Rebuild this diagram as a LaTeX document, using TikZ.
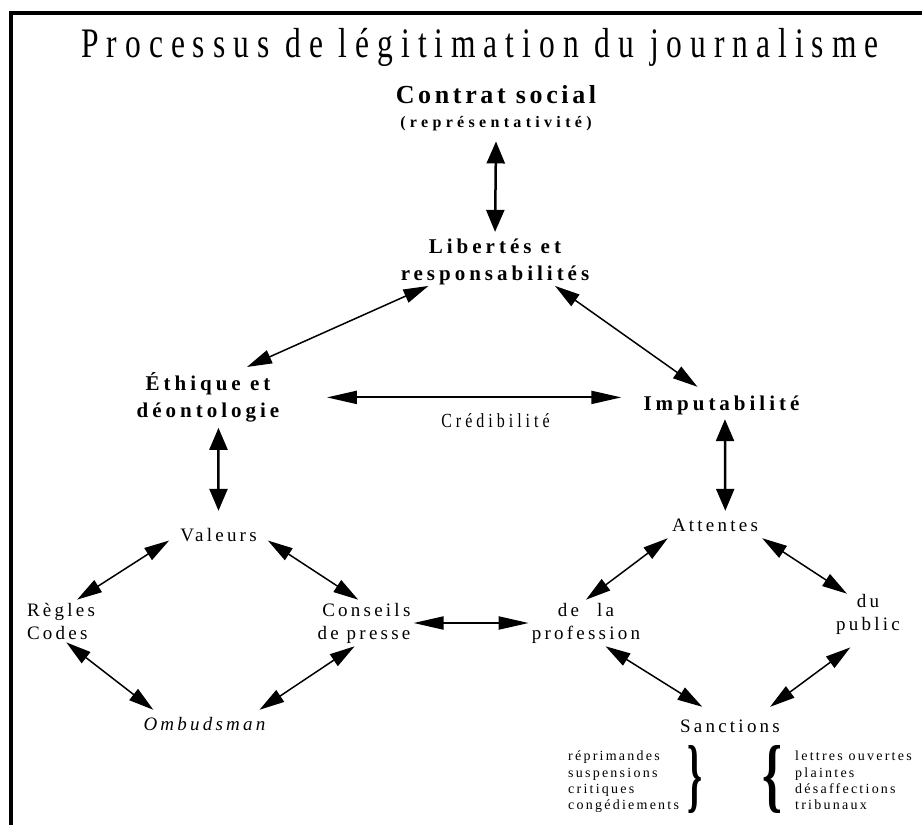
\documentclass[tikz,border=0pt]{standalone}
\usepackage{fontspec}
\usepackage{graphicx}
\usepackage{tikz}
\usetikzlibrary{arrows.meta,positioning}
\setmainfont{Liberation Serif}
\newfontfamily\titlefont[FakeStretch=0.75,LetterSpace=19]{Liberation Serif}
\newfontfamily\narrowfont[FakeStretch=0.8,LetterSpace=20]{Liberation Serif}
\newfontfamily\spacedfont[LetterSpace=17]{Liberation Serif}
\newfontfamily\boldspaced[LetterSpace=19]{Liberation Serif}
\tikzset{
  heading/.style={font=\titlefont\fontsize{42}{44}\selectfont,inner sep=0pt},
  concept/.style={font=\boldspaced\bfseries\fontsize{21}{27}\selectfont,align=center},
  term/.style={font=\spacedfont\fontsize{19}{23}\selectfont},
  smalllist/.style={font=\spacedfont\addfontfeatures{LetterSpace=16}\fontsize{14}{16.3}\selectfont,
    align=left,inner sep=0pt,anchor=north west},
  bracket/.style={inner sep=0pt,font=\bfseries\fontsize{40}{40}\selectfont},
  link/.style={line width=1.5pt,{Triangle[length=25pt,width=14pt]}-{Triangle[length=25pt,width=14pt]}},
  vlink/.style={line width=2.5pt,{Triangle[length=22pt,width=18pt]}-{Triangle[length=22pt,width=18pt]}},
  hlink/.style={line width=2pt,{Triangle[length=30pt,width=13pt]}-{Triangle[length=30pt,width=13pt]}},
  frame/.style={line width=4pt}
}
\begin{document}
\begin{tikzpicture}[x=1pt,y=-1pt]
  \useasboundingbox (0,0) rectangle (922,825);
  \draw[frame] (922,13) -- (11,13) -- (11,825);
  \node[heading,anchor=base] (title) at (480,57) {Processus de légitimation du journalisme};
  % upper triangle
  \node[concept,font=\boldspaced\bfseries\fontsize{16}{24}\selectfont,inner ysep=10pt] (contrat) at (496,108.5)
    {{\fontsize{26}{24}\selectfont\addfontfeatures{LetterSpace=14}Contrat social}\\{\addfontfeatures{LetterSpace=27}(représentativité)}};
  \node[concept,inner xsep=4pt,inner ysep=1pt] (libertes) at (495,261.7) {Libertés et\\responsabilités};
  \node[concept,inner sep=5.4pt] (ethique) at (208,397.4) {Éthique et\\déontologie};
  \node[concept,anchor=base,text height=14pt,text depth=0pt,inner sep=9pt] (imputabilite) at (721.5,410) {Imputabilité};
  \node[anchor=base,font=\narrowfont\fontsize{20}{22}\selectfont] (credibilite) at (495.5,427) {Crédibilité};
  % left branch
  \node[term,anchor=base,text height=13pt,text depth=0pt,inner xsep=11pt,inner ysep=17pt] (valeurs) at (218.5,541) {Valeurs};
  \node[term,align=left,inner sep=3pt] (regles) at (61,621) {Règles\\Codes};
  \node[term,align=right,inner sep=3pt] (conseils) at (364,623) {Conseils\\de presse};
  \node[term,font=\spacedfont\itshape\fontsize{19}{23}\selectfont,anchor=base,text height=13pt,text depth=0pt,inner sep=7pt] (ombudsman) at (204.5,730) {Ombudsman};
  % right branch
  \node[term,anchor=base,text height=13pt,text depth=0pt,inner xsep=4pt,inner ysep=7pt] (attentes) at (715,531) {Attentes};
  \node[term,align=center,inner sep=3pt] (profession) at (586,623) {de\hspace{18pt}la\\profession};
  \node[term,align=center,inner sep=0pt] (public) at (868,614) {du\\public};
  \node[term,anchor=base,text height=13pt,text depth=0pt,inner sep=12pt] (sanctions) at (730,732) {Sanctions};
  \node[smalllist] (peines) at (568,751) {réprimandes\\suspensions\\critiques\\congédiements};
  \node[smalllist] (recours) at (795,751) {lettres ouvertes\\plaintes\\désaffections\\tribunaux};
  \node[bracket] (accpeines) at (694.5,779) {\resizebox*{15pt}{68pt}{\}}};
  \node[bracket] (accrecours) at (772,779) {\resizebox*{20pt}{68pt}{\{}};
  % connectors
  \draw[vlink,shorten >=5.6pt] (contrat.south) -- (libertes.north);
  \draw[link] (libertes.200) -- (ethique.38);
  \draw[link] (libertes.338) -- (imputabilite.146);
  \draw[hlink,shorten <=42pt,shorten >=13pt] (ethique.east) -- (ethique.east -| imputabilite.west);
  \draw[vlink] (ethique.-71) -- (valeurs.north);
  \draw[vlink] (imputabilite.-78) -- (attentes.53);
  \draw[link] (valeurs.187) -- (regles.53);
  \draw[link] (valeurs.-7) -- (conseils.104);
  \draw[link] (regles.-76) -- (ombudsman.165);
  \draw[link] (conseils.-112) -- (ombudsman.14);
  \draw[hlink] (conseils.east) -- (conseils.east -| profession.west);
  \draw[link] (attentes.south west) -- (profession.north);
  \draw[link] (attentes.south east) -- (public.136);
  \draw[link] (profession.-50) -- (sanctions.146);
  \draw[link,shorten >=22pt] (sanctions.25) -- (public.south);
\end{tikzpicture}
\end{document}
